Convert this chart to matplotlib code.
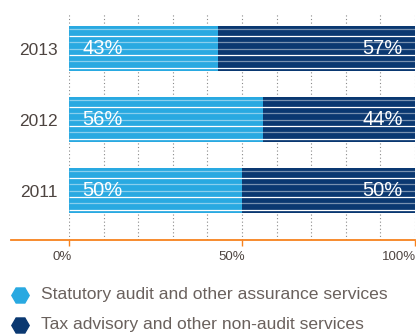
import matplotlib
matplotlib.use("Agg")
import numpy as np
from matplotlib import pyplot as plt
from matplotlib.lines import Line2D

years = ["2011", "2012", "2013"]
audit = [50, 56, 43]
nonaudit = [50, 44, 57]
legend_labels = ["Statutory audit and other assurance services",
                 "Tax advisory and other non-audit services"]
xticks = [0, 50, 100]
xtick_labels = ["0%", "50%", "100%"]

light = "#29a9e1"
navy = "#0a3871"
orange = "#f7821e"
txt = "#4d4440"

plt.rcParams['font.family'] = ['Liberation Sans', 'DejaVu Sans']

fig = plt.figure(figsize=(4.16, 3.36), dpi=100)
ax = fig.add_axes([69/416, 1 - 240/336, 346/416, 226/336])

ypos = np.arange(len(years))
bh = 0.634
ax.barh(ypos, audit, height=bh, color=light, zorder=3)
ax.barh(ypos, nonaudit, left=audit, height=bh, color=navy, zorder=3)

# horizontal stripes across the bars
step = bh / 7
alphas = [0.45, 1, 0.45, 0.45, 1, 0.45, 1]
for y in ypos:
    for k, a in zip(range(3, -4, -1), alphas):
        ax.hlines(y + k * step, 0, 100, color="white", lw=0.9, alpha=a, zorder=4)

for i, y in enumerate(ypos):
    ax.text(3.8, y, f"{audit[i]}%", color="white", fontsize=14.5,
            ha="left", va="center", zorder=5)
    ax.text(96.5, y, f"{nonaudit[i]}%", color="white", fontsize=14.5,
            ha="right", va="center", zorder=5)

# dotted grid
for gx in range(0, 101, 10):
    ax.axvline(gx, color="#8a8a8a", lw=0.8, ls=(0, (1, 2.2)), zorder=1)

ax.set_xlim(0, 100)
ax.set_ylim(-0.697, 2.486)
ax.set_yticks(ypos)
ax.set_yticklabels(years, fontsize=12.5, color=txt)
ax.tick_params(axis="y", length=0, pad=8)
ax.set_xticks(xticks)
ax.set_xticklabels([])
ax.tick_params(axis="x", length=4, width=1, color=orange, direction="out")
for x, lab in zip(xticks, xtick_labels):
    ax.text(min(x + 0.8, 100.2), -0.93, lab, ha="right", va="center",
            fontsize=9.5, color=txt, clip_on=False)

for s in ax.spines.values():
    s.set_visible(False)
ax.plot([-0.1676, 1.0], [0, 0], transform=ax.transAxes, color=orange,
        lw=1.3, clip_on=False, zorder=6)

# legend
for i, (lab, c) in enumerate(zip(legend_labels, (light, navy))):
    yy = 1 - (295 + 30 * i) / 336
    fig.add_artist(Line2D([20/416], [yy], ls="none", marker="H",
                          markersize=12.5, color=c))
    fig.text(41/416, yy, lab, ha="left", va="center", fontsize=12.6,
             color="#6a615d")

fig.savefig("out.png", dpi=100)
